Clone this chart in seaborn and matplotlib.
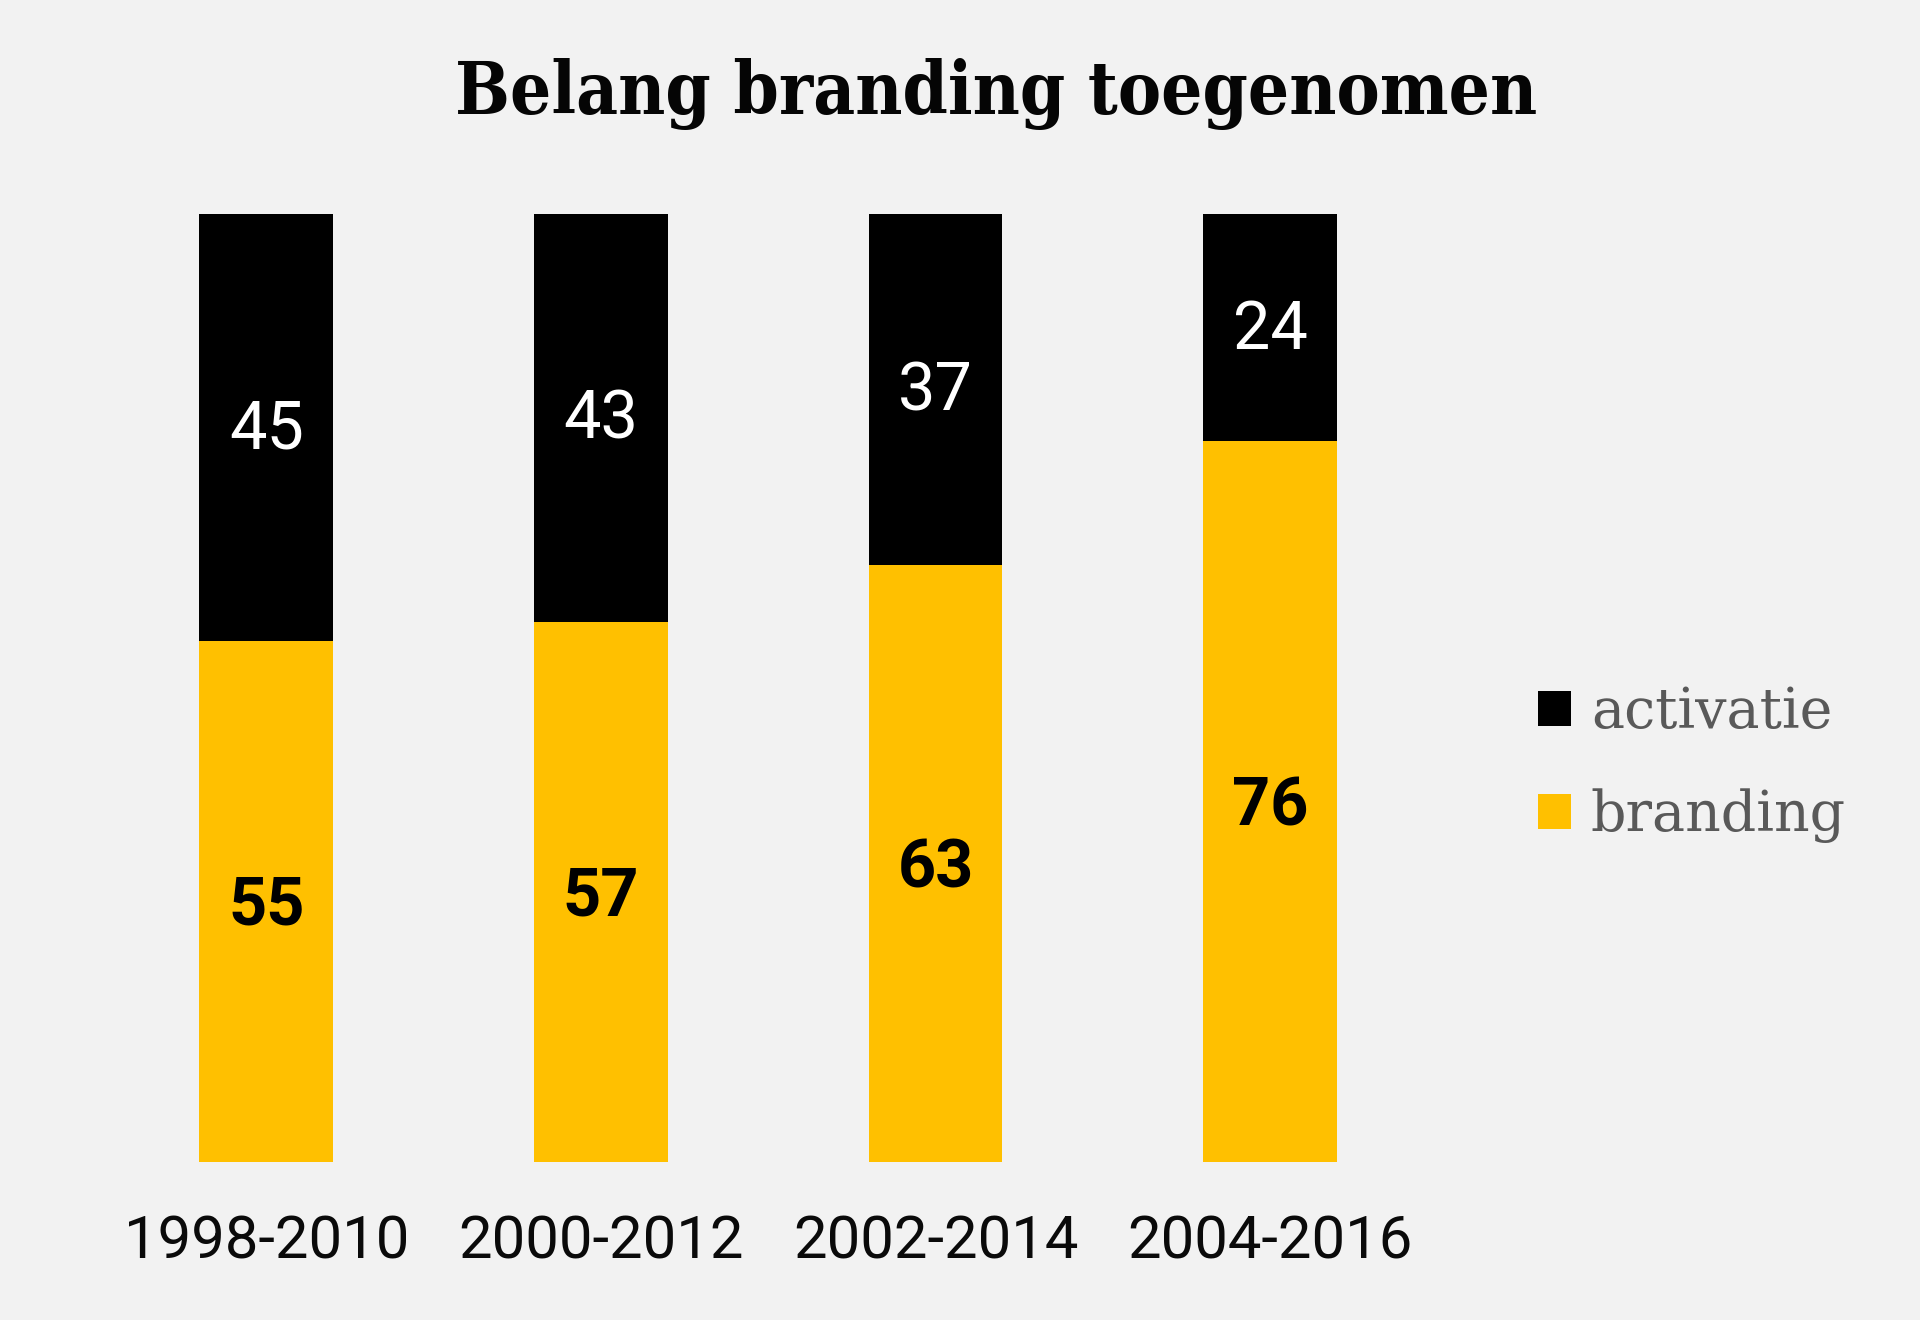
import matplotlib
matplotlib.use("Agg")
import matplotlib.pyplot as plt
import pandas as pd
import seaborn as sns

# data
periods = ["1998-2010", "2000-2012", "2002-2014", "2004-2016"]
branding = [55, 57, 63, 76]
activatie = [45, 43, 37, 24]

YELLOW = "#FFC000"
BLACK = "#000000"
BG = "#F2F2F2"

df = pd.DataFrame({"periode": periods, "branding": branding, "activatie": activatie})
df["totaal"] = df["branding"] + df["activatie"]

sns.set_theme(style="white")
plt.rcParams["font.family"] = ["Roboto", "DejaVu Sans"]

fig = plt.figure(figsize=(19.2, 13.2), dpi=100, facecolor=BG)
ax = fig.add_axes([0.0516, 0.1197, 0.697, 0.7182])
ax.set_facecolor(BG)

# stacked: full bar in black, branding over it in yellow
sns.barplot(data=df, x="periode", y="totaal", color=BLACK, width=0.4,
            saturation=1, linewidth=0, label="activatie", ax=ax)
sns.barplot(data=df, x="periode", y="branding", color=YELLOW, width=0.4,
            saturation=1, linewidth=0, label="branding", ax=ax)

ax.set_xlim(-0.5, 3.5)
ax.set_ylim(0, 100)
ax.set_xlabel("")
ax.set_ylabel("")
ax.set_yticks([])
sns.despine(ax=ax, left=True, bottom=True)
ax.tick_params(axis="x", length=0, pad=37, labelsize=43, labelcolor="#0A0A0A")

# value labels in the middle of each segment
for i, row in df.iterrows():
    ax.text(i, row["branding"] / 2 - 0.6, f"{row['branding']}", ha="center", va="center",
            fontsize=48, fontweight="bold", color=BLACK)
    ax.text(i, row["branding"] + row["activatie"] / 2 - 0.3, f"{row['activatie']}",
            ha="center", va="center", fontsize=48, color="white")

fig.text(0.519, 0.9136, "Belang branding toegenomen", ha="center", va="baseline",
         fontsize=52, fontweight="bold", family="DejaVu Serif",
         fontstretch="condensed", color="#050505")

leg = ax.legend(loc="center left", bbox_to_anchor=(0.775, 0.421),
                bbox_transform=fig.transFigure, frameon=False,
                prop={"family": "DejaVu Serif", "size": 40},
                handlelength=0.6, handleheight=0.6, handletextpad=0.35,
                labelspacing=0.88)
for t in leg.get_texts():
    t.set_color("#595959")

fig.savefig("out.png", dpi=100, facecolor=BG)
